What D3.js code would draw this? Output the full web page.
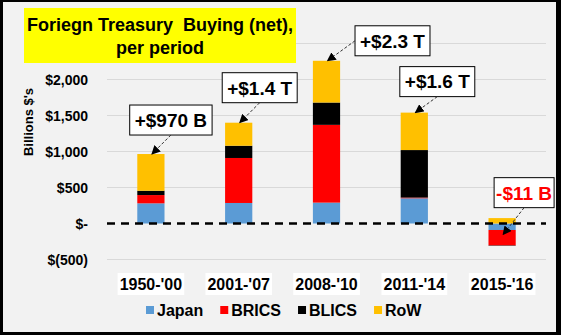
<!DOCTYPE html>
<html>
<head>
<meta charset="utf-8">
<script src="https://cdn.jsdelivr.net/npm/d3@7"></script>
<style>
  body { margin: 0; background: #fff; }
  svg text { font-family: "Liberation Sans", Arial, sans-serif; font-weight: bold; }
</style>
</head>
<body>
<div id="chart"></div>
<script>
var categories = ["1950-'00", "2001-'07", "2008-'10", "2011-'14", "2015-'16"]
var japan = [280, 285, 290, 350, -90]
var brics = [115, 625, 1080, 10, -215]
var blics = [60, 170, 310, 660, -5]
var row = [510, 320, 580, 520, 75]
var seriesNames = ["Japan", "BRICS", "BLICS", "RoW"]
var yTicks = [-500, 0, 500, 1000, 1500, 2000, 2500]
var callouts = ["+$970 B", "+$1.4 T", "+$2.3 T", "+$1.6 T", "-$11 B"]

var width = 561, height = 335

var colors = d3.scaleOrdinal()
    .domain(seriesNames)
    .range(["#5b9bd5", "#ff0000", "#000000", "#ffc000"])

var table = categories.map(function (c, i) {
    return { cat: c, Japan: japan[i], BRICS: brics[i], BLICS: blics[i], RoW: row[i] }
})

var stacked = d3.stack()
    .keys(seriesNames)
    .offset(d3.stackOffsetDiverging)(table)

var x = d3.scaleBand()
    .domain(categories)
    .range([107, 546])
    .paddingInner(0.69)
    .paddingOuter(0.345)

var y = d3.scaleLinear()
    .domain([-500, 2500])
    .range([259.5, 43.5])

var svg = d3.select("#chart")
    .append("svg")
    .attr("width", width)
    .attr("height", height)

svg.append("rect")
    .attr("width", width)
    .attr("height", height)
    .attr("fill", "#f2f2f2")

svg.append("defs").append("marker")
    .attr("id", "head")
    .attr("viewBox", "0 0 10 10")
    .attr("refX", 9).attr("refY", 5)
    .attr("markerWidth", 9).attr("markerHeight", 9)
    .attr("markerUnits", "userSpaceOnUse")
    .attr("orient", "auto")
    .append("path")
    .attr("d", "M0,0L10,5L0,10Z")
    .attr("fill", "#000")

// gridlines
svg.append("g")
    .selectAll("line")
    .data(yTicks.filter(function (t) { return t !== 0 }))
    .enter()
    .append("line")
    .attr("x1", 107).attr("x2", 546)
    .attr("y1", function (d) { return y(d) })
    .attr("y2", function (d) { return y(d) })
    .attr("stroke", "#d9d9d9")
    .attr("stroke-width", 1)

// y axis labels
var yAxis = d3.axisLeft(y)
    .tickValues(yTicks)
    .tickSize(0)
    .tickPadding(0)
    .tickFormat(function (d) {
        if (d === 0) return "$-"
        if (d < 0) return "$(" + d3.format(",")(-d) + ")"
        return "$" + d3.format(",")(d)
    })

var ya = svg.append("g")
    .attr("transform", "translate(88,0)")
    .call(yAxis)
ya.select(".domain").remove()
ya.selectAll("text")
    .attr("fill", "#000")
    .style("font-size", "14px")
    .attr("dy", "0.35em")

svg.append("text")
    .attr("transform", "translate(33,122) rotate(-90)")
    .attr("text-anchor", "middle")
    .style("font-size", "13px")
    .text("Billions $'s")

// bars
svg.append("g")
    .selectAll("g")
    .data(stacked)
    .enter()
    .append("g")
    .attr("fill", function (d) { return colors(d.key) })
    .selectAll("rect")
    .data(function (d) { return d })
    .enter()
    .append("rect")
    .attr("x", function (d) { return x(d.data.cat) })
    .attr("width", x.bandwidth())
    .attr("y", function (d) { return y(Math.max(d[0], d[1])) })
    .attr("height", function (d) { return Math.abs(y(d[0]) - y(d[1])) })

// zero line
svg.append("line")
    .attr("x1", 107).attr("x2", 546)
    .attr("y1", y(0)).attr("y2", y(0))
    .attr("stroke", "#000")
    .attr("stroke-width", 2.5)
    .attr("stroke-dasharray", "8,6")

// category labels with white boxes
var xl = svg.append("g")
    .selectAll("g")
    .data(categories)
    .enter()
    .append("g")
    .attr("transform", function (d) { return "translate(" + (x(d) + x.bandwidth() / 2) + ",284)" })

xl.append("text")
    .attr("text-anchor", "middle")
    .attr("dy", "0.36em")
    .style("font-size", "16px")
    .text(function (d) { return d })

xl.each(function () {
    var g = d3.select(this)
    var bb = g.select("text").node().getBBox()
    g.insert("rect", "text")
        .attr("x", bb.x - 2).attr("y", -11)
        .attr("width", bb.width + 4).attr("height", 22)
        .attr("fill", "#fff")
})

// legend
var legend = svg.append("g")
var lx = 146
seriesNames.forEach(function (name) {
    legend.append("rect")
        .attr("x", lx).attr("y", 306)
        .attr("width", 8).attr("height", 8)
        .attr("fill", colors(name))
    var t = legend.append("text")
        .attr("x", lx + 11).attr("y", 316)
        .style("font-size", "16px")
        .text(name)
    lx += 11 + t.node().getComputedTextLength() + 17
})

// callouts
var offsets = [
    { dx: 19, dy: -34, side: "bottom" },
    { dx: 20, dy: -35, side: "bottom" },
    { dx: 65, dy: -20, side: "left" },
    { dx: 22, dy: -31, side: "bottom" },
    { dx: 21, dy: -42, side: "bottom" }
]

callouts.forEach(function (label, i) {
    var cat = categories[i]
    var pos = 0, neg = 0
    stacked.forEach(function (s) {
        pos = Math.max(pos, s[i][1])
        neg = Math.min(neg, s[i][0])
    })
    var total = japan[i] + brics[i] + blics[i] + row[i]
    var tipV = total >= 0 ? pos : neg / 2
    var tx = x(cat) + x.bandwidth() / 2 + 1
    var ty = y(tipV)
    var o = offsets[i]
    var cx = tx + o.dx, cy = ty + o.dy

    var g = svg.append("g")
    var t = g.append("text")
        .attr("x", cx).attr("y", cy)
        .attr("dy", "0.36em")
        .attr("text-anchor", "middle")
        .style("font-size", "19px")
        .attr("fill", total >= 0 ? "#000" : "#ff0000")
        .text(label)
    var w = t.node().getComputedTextLength() + (total >= 0 ? 10 : 4)
    var h = 30
    g.insert("rect", "text")
        .attr("x", cx - w / 2).attr("y", cy - h / 2)
        .attr("width", w).attr("height", h)
        .attr("fill", "#fff")
        .attr("stroke", "#000")
        .attr("stroke-width", 1)

    var sx, sy
    if (o.side === "left") { sx = cx - w / 2; sy = cy }
    else { sx = cx; sy = cy + h / 2 }

    svg.append("line")
        .attr("x1", sx).attr("y1", sy)
        .attr("x2", tx).attr("y2", ty)
        .attr("stroke", "#333")
        .attr("stroke-width", 1)
        .attr("stroke-dasharray", "3,2")
        .attr("marker-end", "url(#head)")
})

// title
svg.append("rect")
    .attr("x", 24).attr("y", 8)
    .attr("width", 272).attr("height", 55)
    .attr("fill", "#ffff00")

svg.append("text")
    .attr("x", 160).attr("y", 30.5)
    .attr("text-anchor", "middle")
    .style("font-size", "18px")
    .style("white-space", "pre")
    .text("Foriegn Treasury  Buying (net),")

svg.append("text")
    .attr("x", 160).attr("y", 54)
    .attr("text-anchor", "middle")
    .style("font-size", "18px")
    .text("per period")

// outer frame
svg.append("path")
    .attr("d", "M0,0H561V335H0Z M3,2V332H556V2Z")
    .attr("fill", "#000")
    .attr("fill-rule", "evenodd")
</script>
</body>
</html>
